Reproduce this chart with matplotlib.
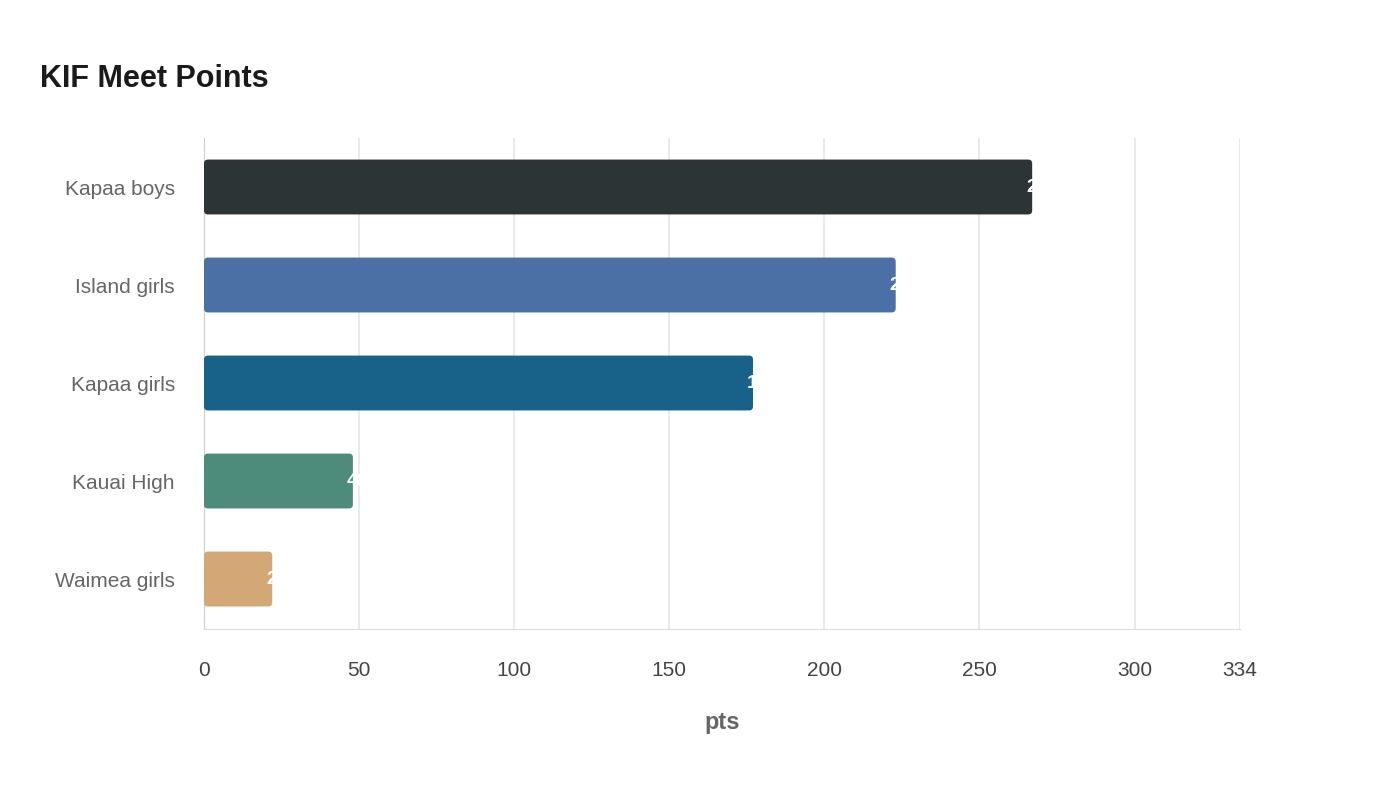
import matplotlib.pyplot as plt
from matplotlib.patches import FancyBboxPatch

plt.rcParams['font.family'] = ['Liberation Sans', 'DejaVu Sans']

teams = ["Kapaa boys", "Island girls", "Kapaa girls", "Kauai High", "Waimea girls"]
points = [267, 223, 177, 48, 22]
colors = ["#2d3436", "#4a70a5", "#186188", "#4d8b7a", "#d4a776"]
ticks = [0, 50, 100, 150, 200, 250, 300, 334]

fig = plt.figure(figsize=(14, 8), dpi=100)
ax = fig.add_axes([204 / 1400, 1 - 629 / 800, (1240 - 204) / 1400, (629 - 138) / 800])
ax.set_xlim(0, 334)
ax.set_ylim(4.51, -0.5)

for i, (t, v, c) in enumerate(zip(teams, points, colors)):
    bar = FancyBboxPatch((0, i - 0.28), v, 0.56, boxstyle="round,pad=0,rounding_size=1.3",
                         mutation_aspect=0.031, fc=c, ec="none", zorder=3)
    ax.add_patch(bar)
    txt = ax.text(v - 2, i, str(v), color="white", fontsize=14, fontweight="bold",
                  va="center", ha="left", zorder=4)
    txt.set_clip_path(bar)

ax.set_yticks(range(len(teams)))
ax.set_yticklabels(teams, fontsize=15, color="#666666")
ax.set_xticks(ticks)
ax.set_xticklabels([str(t) for t in ticks], fontsize=15, color="#444444")
ax.tick_params(length=0, pad=21, axis="y")
ax.tick_params(length=0, pad=23, axis="x")
ax.grid(axis="x", color="#e6e6e6", lw=1.2, zorder=0)
for s in ["top", "right"]:
    ax.spines[s].set_visible(False)
ax.spines["left"].set_color("#cccccc")
ax.spines["bottom"].set_color("#dddddd")
ax.set_xlabel("pts", fontsize=17, fontweight="bold", color="#666666", labelpad=22)

fig.text(40 / 1400, 1 - 79 / 800, "KIF Meet Points", fontsize=22, fontweight="bold",
         color="#1a1a1a", va="center")
fig.savefig("out.png")
